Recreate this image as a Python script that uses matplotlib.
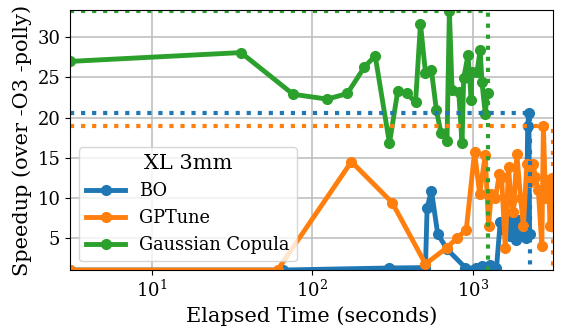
import matplotlib
matplotlib.use("Agg")
import matplotlib.pyplot as plt
from matplotlib.ticker import NullLocator

plt.rcParams["font.family"] = "serif"
plt.rcParams["mathtext.fontset"] = "dejavuserif"

# elapsed time (s) and speedup per tuner
bo_time = [3.1, 66, 299, 506, 518, 551, 603, 689, 896, 1050, 1130, 1280, 1400,
           1478, 1550, 1620, 1700, 1780, 1850, 1930, 2000, 2080, 2150, 2190,
           2230, 2250]
bo_speedup = [1.0, 1.0, 1.25, 1.3, 8.75, 10.9, 5.5, 3.6, 1.3, 1.2, 1.5, 1.6, 1.2,
              7.0, 6.0, 7.8, 5.2, 6.8, 4.8, 7.2, 5.5, 6.2, 5.0, 19.0,
              20.6, 5.5]

gp_time = [3.1, 60.7, 175, 314, 506, 690, 795, 908, 1023, 1100, 1192, 1250,
           1300, 1380, 1462, 1507, 1588, 1665, 1727, 1786, 1875, 1977, 2061,
           2163, 2268, 2378, 2436, 2550, 2683, 2744, 2825, 2952, 3020, 3100, 3155]
gp_speedup = [1.0, 1.0, 14.5, 9.4, 1.75, 3.8, 5.0, 6.0, 15.7, 10.5, 15.3, 6.5,
              10.5, 10.0, 13.0, 12.6, 3.8, 13.8, 9.5, 8.2, 15.5, 10.0, 6.5,
              14.2, 12.0, 14.2, 12.6, 11.0, 4.0, 18.9, 10.0, 12.2, 6.5, 12.5, 10.0]

gc_time = [3.1, 35.9, 75.9, 124, 165, 211, 246, 302, 340, 386, 439, 471, 506,
           551, 592, 632, 689, 713, 741, 815, 855, 875, 931, 975, 984, 1059,
           1109, 1137, 1192, 1232]
gc_speedup = [27.0, 28.1, 22.9, 22.3, 23.0, 26.3, 27.7, 16.8, 23.3, 23.0, 21.9,
              31.7, 25.6, 25.9, 20.9, 18.1, 17.1, 33.3, 23.4, 23.2, 16.8, 24.9,
              27.8, 22.2, 25.7, 25.7, 28.4, 24.4, 20.5, 23.1]

series = [
    ("BO", bo_time, bo_speedup, "#1f77b4"),
    ("GPTune", gp_time, gp_speedup, "#ff7f0e"),
    ("Gaussian Copula", gc_time, gc_speedup, "#2ca02c"),
]

fig = plt.figure(figsize=(5.65, 3.35), dpi=100)
ax = fig.add_axes([0.124, 0.194, 0.855, 0.776])

xmin = min(min(s[1]) for s in series)
xmax = max(max(s[1]) for s in series)
ymin = 1.0

for name, t, s, c in series:
    ax.plot(t, s, "-o", color=c, lw=3.5, ms=7, label=name)

# best speedup and end of each run
for name, t, s, c in series:
    best = max(s)
    ax.plot([xmin, t[-1], t[-1]], [best, best, ymin], ":", color=c, lw=3)

ax.set_xscale("log")
ax.xaxis.set_minor_locator(NullLocator())
ax.set_xlim(xmin, xmax)
ax.set_ylim(ymin, max(gc_speedup) + 0.1)
ax.set_yticks([5, 10, 15, 20, 25, 30])
ax.grid(True, color="#c0c0c0", lw=1.2)
ax.set_axisbelow(True)
ax.tick_params(labelsize=13)
ax.set_xlabel("Elapsed Time (seconds)", fontsize=15)
ax.set_ylabel("Speedup (over -O3 -polly)", fontsize=15)
leg = ax.legend(title="XL 3mm", loc="lower left", fontsize=12.8, title_fontsize=15,
                handlelength=2.2, labelspacing=0.5)

fig.savefig("out.png")
